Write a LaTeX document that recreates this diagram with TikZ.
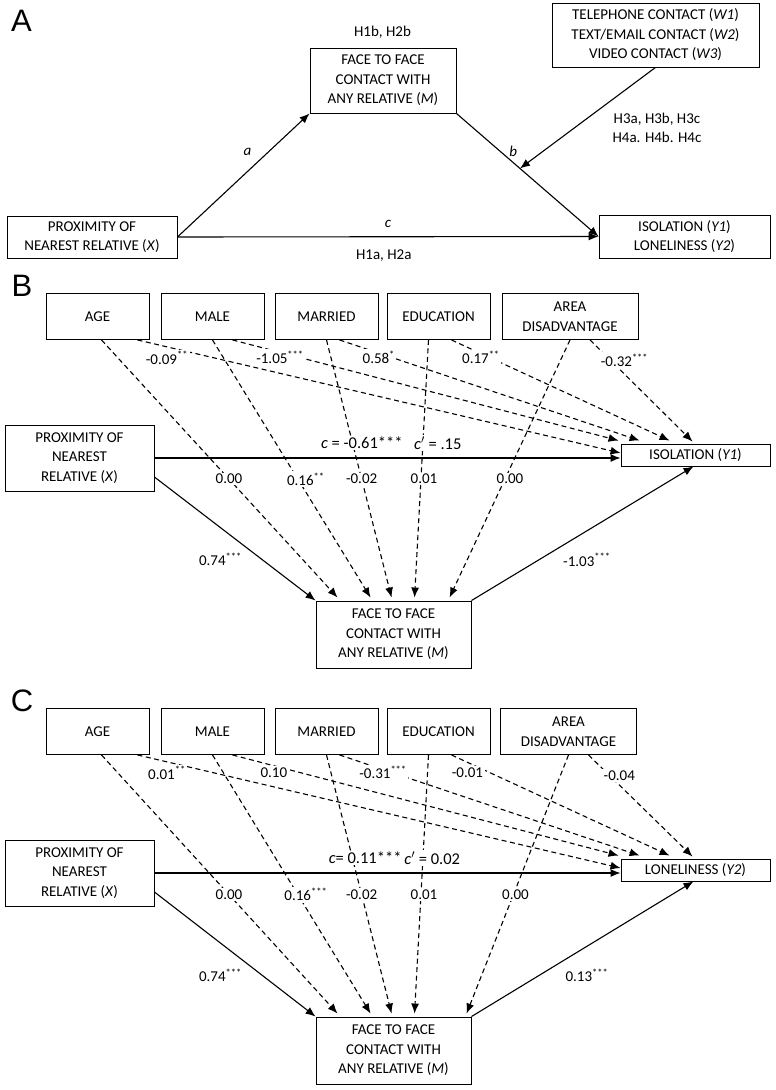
\documentclass[tikz,border=0pt]{standalone}
\usepackage{fontspec}
\setmainfont{Carlito}
\newfontfamily\panelfont{Liberation Sans}
\usetikzlibrary{arrows.meta}
\newcommand{\sig}[1]{\textsuperscript{#1}}
\newcommand{\cp}{\textit{c}$'$}

\tikzset{
  box/.style={draw, line width=0.9pt, align=center, inner sep=0pt},
  ctrlbox/.style={box, minimum width=103pt, minimum height=46pt},
  lab/.style={fill=white, inner sep=1.5pt},
  clab/.style={lab, font=\fontsize{16.5}{20}\selectfont},
  arr/.style={line width=1.1pt, -{Latex[length=10pt,width=8pt]}},
  ctl/.style={arr, dash pattern=on 5pt off 3.5pt},
  letter/.style={font=\panelfont\fontsize{31}{31}\selectfont}
}

\begin{document}
\begin{tikzpicture}[x=1pt, y=-1pt, font=\fontsize{15}{19.5}\selectfont]
  \useasboundingbox (0,0) rectangle (776,1090);

  % panel A: hypotheses
  \node[letter] (la) at (21.5,21) {A};
  \node[box, minimum width=170pt, minimum height=42pt] (ax) at (92,237) {PROXIMITY OF\\NEAREST RELATIVE (\textit{X})};
  \node[box, minimum width=146pt, minimum height=65pt] (am) at (383,80.5) {FACE TO FACE\\CONTACT WITH\\ANY RELATIVE (\textit{M})};
  \node[box, minimum width=207pt, minimum height=64pt] (aw) at (655.5,35) {TELEPHONE CONTACT (\textit{W1})\\TEXT/EMAIL CONTACT (\textit{W2})\\VIDEO CONTACT (\textit{W3})};
  \node[box, minimum width=171pt, minimum height=43pt] (ay) at (684.5,236.5) {ISOLATION (\textit{Y1})\\LONELINESS (\textit{Y2})};
  \node (hb) at (382.5,32) {H1b, H2b};
  \node[align=center] (hc) at (657,128) {H3a, H3b, H3c\\H4a. H4b. H4c};
  \draw[arr] (ax.east) -- node[pos=.53, yshift=20pt] {\textit{a}} (am.south west);
  \draw[arr] (ax.east) -- node[pos=.5, yshift=13pt] {\textit{c}} node[pos=.49, yshift=-19pt] {H1a, H2a} (ay.west);
  \draw[arr] (am.south east) -- node[pos=.4, yshift=11pt] {\textit{b}} coordinate[pos=.447] (bw) (ay.west);
  \draw[arr] (aw.south) -- (bw);

  % panel B: isolation
  \node[letter] (lb) at (22,286) {B};
  \node[ctrlbox] (bage) at (97.5,316.5) {AGE};
  \node[ctrlbox] (bmale) at (212.5,316.5) {MALE};
  \node[ctrlbox] (bmar) at (326.5,316.5) {MARRIED};
  \node[ctrlbox] (bedu) at (438.5,316.5) {EDUCATION};
  \node[ctrlbox, minimum width=136pt] (barea) at (570,316.5) {AREA\\DISADVANTAGE};
  \node[box, minimum width=149pt, minimum height=66pt] (bx) at (79.5,458) {PROXIMITY OF\\NEAREST\\RELATIVE (\textit{X})};
  \node[box, minimum width=149pt, minimum height=22pt] (by) at (695.5,455) {ISOLATION (\textit{Y1})};
  \node[box, minimum width=155pt, minimum height=67pt] (bm) at (393.5,634.5) {FACE TO FACE\\CONTACT WITH\\ANY RELATIVE (\textit{M})};
  \draw[ctl] ([xshift=40pt]bage.south) -- node[lab, pos=.061, yshift=-11pt] {-0.09\sig{**}} ([yshift=2pt]by.west);
  \draw[ctl] ([xshift=20pt]bmale.south) -- node[lab, pos=.123, yshift=-5pt] {-1.05\sig{***}} ([xshift=-2pt,yshift=3pt]by.north west);
  \draw[ctl] ([xshift=13pt]bmar.south) -- node[lab, pos=.131, yshift=-4pt] {0.58\sig{*}} ([xshift=19pt,yshift=3pt]by.north west);
  \draw[ctl] ([xshift=13pt]bedu.south) -- node[lab, pos=.135, yshift=-4pt] {0.17\sig{**}} ([xshift=49pt,yshift=3pt]by.north west);
  \draw[ctl] ([xshift=20pt]barea.south) -- node[lab, pos=.2, xshift=14pt] {-0.32\sig{***}} ([xshift=72pt,yshift=2pt]by.north west);
  \draw[ctl] ([xshift=4pt]bage.south) -- node[lab, pos=.54] {0.00} ([xshift=22pt,yshift=3pt]bm.north west);
  \draw[ctl] (bmale.south) -- node[lab, pos=.54, xshift=8pt] {0.16\sig{**}} ([xshift=55pt,yshift=3pt]bm.north west);
  \draw[ctl] (bmar.south) -- node[lab, pos=.54] {-0.02} ([xshift=76pt,yshift=3pt]bm.north west);
  \draw[ctl] ([xshift=-10pt]bedu.south) -- node[lab, pos=.54, xshift=3pt] {0.01} ([xshift=99pt,yshift=3pt]bm.north west);
  \draw[ctl] (barea.south) -- node[lab, pos=.54, xshift=5pt] {0.00} ([xshift=134pt,yshift=3pt]bm.north west);
  \draw[arr] ([yshift=-19pt]bx.east) -- node[pos=.41, yshift=-32pt] {0.74\sig{***}} (bm.north west);
  \draw[arr] (bm.north east) -- node[pos=.52, yshift=-29pt] {-1.03\sig{***}} ([xshift=-2pt]by.south);
  \draw[arr] (bx.east) -- node[clab, pos=.445, yshift=15pt] {\textit{c} = -0.61***} node[clab, pos=.608, yshift=15pt] {\cp{} = .15} (bx.east -| by.west);

  % panel C: loneliness
  \begin{scope}[yshift=-415pt]
  \node[letter] (lc) at (22,286) {C};
  \node[ctrlbox] (cage) at (97.5,316.5) {AGE};
  \node[ctrlbox] (cmale) at (212.5,316.5) {MALE};
  \node[ctrlbox] (cmar) at (326.5,316.5) {MARRIED};
  \node[ctrlbox] (cedu) at (438.5,316.5) {EDUCATION};
  \node[ctrlbox, minimum width=136pt] (carea) at (568.5,316.5) {AREA\\DISADVANTAGE};
  \node[box, minimum width=149pt, minimum height=66pt] (cx) at (79.5,458) {PROXIMITY OF\\NEAREST\\RELATIVE (\textit{X})};
  \node[box, minimum width=149pt, minimum height=22pt] (cy) at (695.5,455) {LONELINESS (\textit{Y2})};
  \node[box, minimum width=155pt, minimum height=67pt] (cm) at (393.5,635.5) {FACE TO FACE\\CONTACT WITH\\ANY RELATIVE (\textit{M})};
  \draw[ctl] ([xshift=40pt]cage.south) -- node[lab, pos=.061, yshift=-11pt] {0.01\sig{**}} ([yshift=2pt]cy.west);
  \draw[ctl] ([xshift=20pt]cmale.south) -- node[lab, pos=.107, yshift=-7pt] {0.10} ([xshift=-2pt,yshift=3pt]cy.north west);
  \draw[ctl] ([xshift=13pt]cmar.south) -- node[lab, pos=.145, yshift=-3pt] {-0.31\sig{***}} ([xshift=19pt,yshift=3pt]cy.north west);
  \draw[ctl] ([xshift=13pt]cedu.south) -- node[lab, pos=.073, yshift=-10pt] {-0.01} ([xshift=49pt,yshift=3pt]cy.north west);
  \draw[ctl] ([xshift=20pt]carea.south) -- node[lab, pos=.2, xshift=10pt] {-0.04} ([xshift=72pt,yshift=2pt]cy.north west);
  \draw[ctl] ([xshift=4pt]cage.south) -- node[lab, pos=.54] {0.00} ([xshift=22pt,yshift=3pt]cm.north west);
  \draw[ctl] (cmale.south) -- node[lab, pos=.54, xshift=8pt] {0.16\sig{***}} ([xshift=55pt,yshift=3pt]cm.north west);
  \draw[ctl] (cmar.south) -- node[lab, pos=.54] {-0.02} ([xshift=76pt,yshift=3pt]cm.north west);
  \draw[ctl] ([xshift=-10pt]cedu.south) -- node[lab, pos=.54, xshift=3pt] {0.01} ([xshift=99pt,yshift=3pt]cm.north west);
  \draw[ctl] (carea.south) -- node[lab, pos=.54, xshift=2pt] {0.00} ([xshift=151pt,yshift=3pt]cm.north west);
  \draw[arr] ([yshift=-19pt]cx.east) -- node[pos=.41, yshift=-32pt] {0.74\sig{***}} (cm.north west);
  \draw[arr] (cm.north east) -- node[pos=.52, yshift=-29pt] {0.13\sig{***}} ([xshift=-2pt]cy.south);
  \draw[arr] (cx.east) -- node[clab, pos=.452, yshift=15pt] {\textit{c}= 0.11***} node[clab, pos=.596, yshift=15pt] {\cp{} = 0.02} (cx.east -| cy.west);
  \end{scope}

\end{tikzpicture}
\end{document}
